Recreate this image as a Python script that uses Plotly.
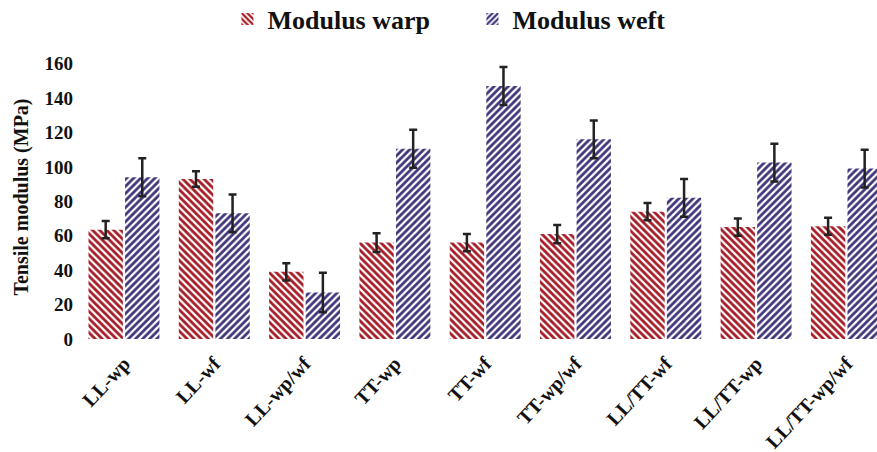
import plotly.graph_objects as go

# Tensile modulus of the fabric composites, warp vs weft direction
categories = ["LL-wp", "LL-wf", "LL-wp/wf", "TT-wp", "TT-wf", "TT-wp/wf",
              "LL/TT-wf", "LL/TT-wp", "LL/TT-wp/wf"]
warp_modulus = [63.5, 93, 39, 56, 56, 61, 74, 65, 65.5]
warp_error = [5, 4.5, 5, 5.5, 5, 5.3, 5, 5, 5]
weft_modulus = [94, 73, 27, 110.5, 147, 116, 82, 102.5, 99]
weft_error = [11, 11, 11.5, 11, 11, 11, 11, 11, 11]
y_ticks = [0, 20, 40, 60, 80, 100, 120, 140, 160]

WARP_COLOR = "#a51c26"
WEFT_COLOR = "#42367a"
FONT = "Liberation Serif, Times New Roman, serif"

fig = go.Figure()
fig.add_trace(go.Bar(
    x=categories, y=warp_modulus, name="<b>Modulus warp</b>",
    marker=dict(color="white", line=dict(width=0),
                pattern=dict(shape="\\", fgcolor=WARP_COLOR, bgcolor="white",
                             size=5, solidity=0.55, fillmode="replace")),
    error_y=dict(type="data", array=warp_error, color="#222222",
                 thickness=2.5, width=4),
))
fig.add_trace(go.Bar(
    x=categories, y=weft_modulus, name="<b>Modulus weft</b>",
    marker=dict(color="white", line=dict(width=0),
                pattern=dict(shape="/", fgcolor=WEFT_COLOR, bgcolor="white",
                             size=5, solidity=0.55, fillmode="replace")),
    error_y=dict(type="data", array=weft_error, color="#222222",
                 thickness=2.5, width=4),
))

fig.update_layout(
    width=877, height=452,
    margin=dict(l=80, r=0, t=55, b=113, autoexpand=False),
    paper_bgcolor="white", plot_bgcolor="white",
    barmode="group", bargap=0.19, bargroupgap=0.06,
    font=dict(family=FONT, color="#111111"),
    showlegend=True,
    legend=dict(orientation="h", x=0.185, y=0.958, xanchor="left", yanchor="middle",
                yref="container",
                font=dict(family=FONT, size=26, color="#111111"),
                entrywidth=200, entrywidthmode="pixels",
                bgcolor="rgba(0,0,0,0)"),
    xaxis=dict(
        type="category", range=[-0.487, 8.339],
        showline=False, showgrid=False, zeroline=False, ticks="",
        tickangle=-47, ticklabelstandoff=8,
        tickfont=dict(family=FONT, size=20, color="#111111"),
    ),
    yaxis=dict(
        range=[0, 165], tickvals=y_ticks,
        showline=False, showgrid=False, zeroline=False, ticks="",
        ticklabelstandoff=6,
        tickfont=dict(family=FONT, size=19, color="#111111"),
        title=dict(text="<b>Tensile modulus (MPa)</b>",
                   font=dict(family=FONT, size=20, color="#111111"),
                   standoff=10),
    ),
)
fig.update_xaxes(ticktext=[f"<b>{c}</b>" for c in categories], tickvals=categories)
fig.update_yaxes(ticktext=[f"<b>{v}</b>" for v in y_ticks])

fig.write_html("out.html")
